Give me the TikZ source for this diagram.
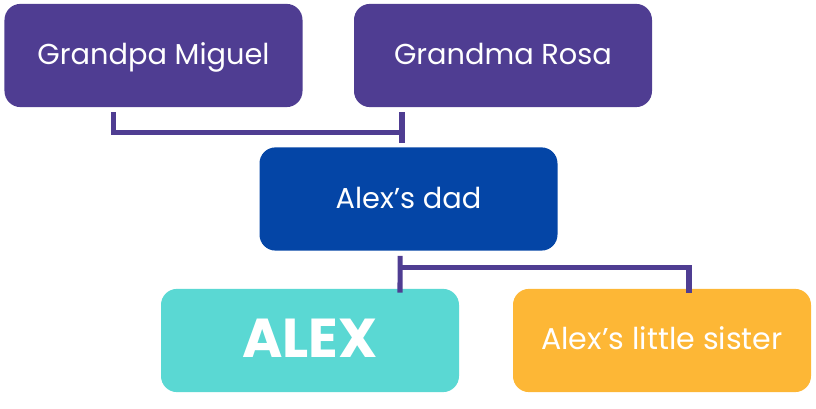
\documentclass[tikz,border=0pt]{standalone}
\usepackage{fontspec}
\setmainfont{Poppins}
\usetikzlibrary{calc}
\definecolor{grape}{HTML}{4F3D92}
\definecolor{royal}{HTML}{0445A6}
\definecolor{aqua}{HTML}{5AD8D3}
\definecolor{sun}{HTML}{FDB736}
\tikzset{
  person/.style={rectangle,rounded corners=0.4cm,minimum width=7.45cm,minimum height=2.58cm,
    text=white,font=\fontsize{20.5}{24}\selectfont,inner sep=0pt,text height=0.6cm,text depth=0.125cm},
  link/.style={grape,line width=3.6pt}
}
\begin{document}
\begin{tikzpicture}
\useasboundingbox (0,0) rectangle (20.4,10.225);
% hàng 1
\node[person,fill=grape] (gpa) at (3.8375,8.8375) {Grandpa Miguel};
\node[person,fill=grape] (gma) at (12.575,8.8375) {Grandma Rosa};
% hàng 2
\node[person,fill=royal] (dad) at (10.2125,5.25) {Alex’s dad};
% hàng 3
\node[person,fill=aqua,font=\fontsize{39}{44}\selectfont\bfseries,text height=1cm] (alex) at (7.75,1.7125) {ALEX};
\node[person,fill=sun,font=\fontsize{21.4}{25}\selectfont] (sis) at (16.55,1.7125) {Alex’s little sister};
% nối
\coordinate (p1) at ($(gpa.south)+(-1.01,-0.125)$);
\coordinate (p2) at ($(gma.south)+(-2.525,-0.125)$);
\coordinate (p3) at ($(gma.south)+(-2.525,-0.9)$);
\draw[link] (p1) |- ($(p2)!0.64!(p3)$);
\draw[link] (p2) -- (p3);
\coordinate (q1) at ($(dad.south)+(-0.21,-0.125)$);
\coordinate (q2) at ($(alex.north)+(2.25,-0.1)$);
\coordinate (q3) at ($(sis.north)+(0.675,0.6)$);
\coordinate (q4) at ($(sis.north)+(0.675,-0.1)$);
\draw[link] (q1) -- (q2);
\draw[link] (q1|-q3) ++(0,-0.075) -| (q4);
\end{tikzpicture}
\end{document}
